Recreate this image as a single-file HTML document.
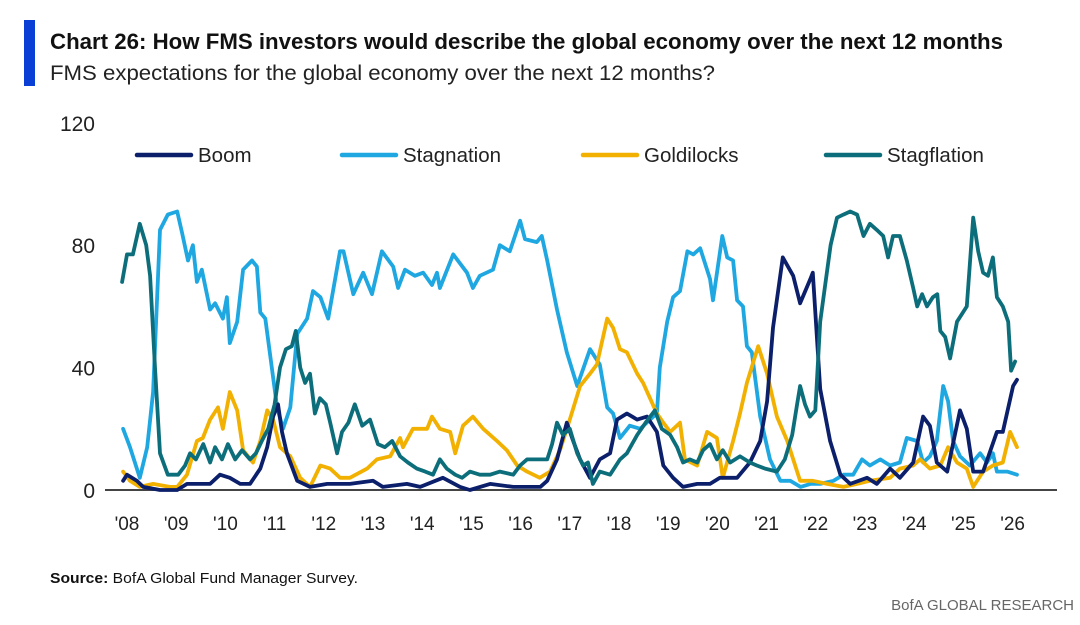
<!DOCTYPE html>
<html><head><meta charset="utf-8"><style>
body{margin:0;background:#fff;width:1080px;height:620px;overflow:hidden;font-family:"Liberation Sans",sans-serif;}
</style></head><body>
<svg id="chart" width="1080" height="620" xmlns="http://www.w3.org/2000/svg" font-family="Liberation Sans, sans-serif">
<rect x="24" y="20" width="11" height="66" fill="#0a3fd6"/>
<text x="50" y="49" font-size="22" font-weight="bold" fill="#111" textLength="953" lengthAdjust="spacingAndGlyphs">Chart 26: How FMS investors would describe the global economy over the next 12 months</text>
<text x="50" y="80" font-size="21" fill="#222" textLength="665" lengthAdjust="spacingAndGlyphs">FMS expectations for the global economy over the next 12 months?</text>
<g id="yticks"></g><g id="xticks"></g>
<line x1="105" y1="490" x2="1057" y2="490" stroke="#444" stroke-width="2"/>
<g id="series"></g>
<g id="legend"></g>
<text x="50" y="583" font-size="15" fill="#111" textLength="308" lengthAdjust="spacingAndGlyphs"><tspan font-weight="bold">Source:</tspan> BofA Global Fund Manager Survey.</text>
<text x="1074" y="610" font-size="15" fill="#666" text-anchor="end">BofA GLOBAL RESEARCH</text>
</svg>
<script>
const yTicks=[0,40,80,120];
const xTickLabels=["'08","'09","'10","'11","'12","'13","'14","'15","'16","'17","'18","'19","'20","'21","'22","'23","'24","'25","'26"];
const seriesNames=["Boom","Stagnation","Goldilocks","Stagflation"];
const boom=[[2007.92,3],[2008,5],[2008.2,3],[2008.33,1],[2008.67,0],[2009.02,0],[2009.22,2],[2009.42,2],[2009.69,2],[2009.89,5],[2010.09,4],[2010.3,2],[2010.5,2],[2010.71,7],[2010.85,14],[2010.97,24],[2011.07,28],[2011.15,19],[2011.25,12],[2011.46,3],[2011.72,1],[2012.07,2],[2012.4,2],[2012.53,2],[2013,3],[2013.2,1],[2013.69,2],[2013.96,1],[2014.42,4],[2014.77,1],[2014.97,0],[2015.38,2],[2015.85,1],[2016.4,1],[2016.54,3],[2016.74,10],[2016.94,22],[2017.07,16],[2017.21,10],[2017.41,4],[2017.61,10],[2017.82,12],[2017.96,23],[2018.16,25],[2018.37,23],[2018.57,24],[2018.77,19],[2018.9,8],[2019.1,4],[2019.3,1],[2019.59,2],[2019.85,2],[2020.05,4],[2020.4,4],[2020.66,9],[2020.87,16],[2021.01,29],[2021.13,53],[2021.33,76],[2021.54,70],[2021.68,61],[2021.89,69],[2021.94,71],[2022.09,33],[2022.29,16],[2022.5,5],[2022.7,2],[2023.04,4],[2023.24,2],[2023.51,7],[2023.71,4],[2023.98,9],[2024.18,24],[2024.32,21],[2024.46,9],[2024.67,6],[2024.93,26],[2025.07,20],[2025.2,6],[2025.4,6],[2025.68,19],[2025.8,19],[2026.01,34],[2026.09,36]];
const stagnation=[[2007.92,20],[2008.06,14],[2008.26,4],[2008.41,14],[2008.53,32],[2008.67,85],[2008.83,90],[2009.02,91],[2009.12,84],[2009.24,75],[2009.34,80],[2009.42,68],[2009.52,72],[2009.69,59],[2009.79,61],[2009.95,56],[2010.03,63],[2010.09,48],[2010.24,55],[2010.36,72],[2010.54,75],[2010.64,73],[2010.71,58],[2010.81,56],[2011.05,27],[2011.17,20],[2011.32,27],[2011.46,51],[2011.66,56],[2011.78,65],[2011.93,63],[2012.09,56],[2012.33,78],[2012.4,78],[2012.6,64],[2012.8,71],[2012.98,64],[2013.18,78],[2013.41,73],[2013.51,66],[2013.65,72],[2013.85,70],[2014.02,71],[2014.2,67],[2014.3,71],[2014.36,66],[2014.63,77],[2014.91,71],[2015.03,66],[2015.17,70],[2015.44,72],[2015.58,80],[2015.78,78],[2015.99,88],[2016.09,82],[2016.33,81],[2016.43,83],[2016.54,75],[2016.74,59],[2016.94,45],[2017.15,34],[2017.41,46],[2017.61,41],[2017.76,27],[2017.88,25],[2018.02,17],[2018.22,21],[2018.43,20],[2018.63,23],[2018.77,25],[2018.83,40],[2018.98,55],[2019.1,63],[2019.24,65],[2019.39,78],[2019.51,77],[2019.65,79],[2019.85,69],[2019.91,62],[2020.1,83],[2020.2,76],[2020.32,75],[2020.4,62],[2020.52,60],[2020.6,47],[2020.7,45],[2020.87,24],[2021.07,10],[2021.28,3],[2021.48,3],[2021.69,1],[2021.89,2],[2022.09,2],[2022.36,3],[2022.56,5],[2022.76,5],[2022.94,10],[2023.1,8],[2023.31,10],[2023.51,8],[2023.71,9],[2023.85,17],[2024.06,16],[2024.18,9],[2024.32,11],[2024.46,16],[2024.59,34],[2024.69,29],[2024.79,16],[2024.93,11],[2025.13,8],[2025.34,12],[2025.48,9],[2025.6,12],[2025.68,6],[2025.89,6],[2026.09,5]];
const goldilocks=[[2007.92,6],[2008.06,3],[2008.26,1],[2008.53,2],[2008.87,1],[2009.02,1],[2009.22,5],[2009.42,16],[2009.54,17],[2009.69,23],[2009.85,27],[2009.95,20],[2010.09,32],[2010.24,26],[2010.36,13],[2010.56,9],[2010.71,16],[2010.85,26],[2010.97,23],[2011.11,14],[2011.32,11],[2011.52,4],[2011.72,1],[2011.93,8],[2012.13,7],[2012.33,4],[2012.53,4],[2012.88,7],[2013.08,10],[2013.35,11],[2013.55,17],[2013.61,14],[2013.81,20],[2014.1,20],[2014.2,24],[2014.36,20],[2014.57,19],[2014.67,12],[2014.83,21],[2015.03,24],[2015.24,20],[2015.52,16],[2015.72,13],[2015.93,8],[2016.13,6],[2016.39,4],[2016.6,6],[2016.8,13],[2017,23],[2017.21,34],[2017.41,38],[2017.55,41],[2017.76,56],[2017.88,53],[2018.02,46],[2018.16,45],[2018.37,38],[2018.49,35],[2018.63,30],[2018.77,25],[2018.9,22],[2019.04,19],[2019.24,22],[2019.34,10],[2019.59,8],[2019.79,19],[2019.99,17],[2020.11,4],[2020.32,16],[2020.46,25],[2020.6,35],[2020.83,47],[2021.01,38],[2021.21,24],[2021.42,16],[2021.68,3],[2021.94,3],[2022.23,2],[2022.56,1],[2022.84,2],[2023.1,3],[2023.51,4],[2023.71,7],[2023.98,8],[2024.12,10],[2024.32,7],[2024.53,8],[2024.69,14],[2024.87,9],[2025.07,7],[2025.2,1],[2025.4,6],[2025.6,8],[2025.8,9],[2025.95,19],[2026.09,14]];
const stagflation=[[2007.9,68],[2008,77],[2008.12,77],[2008.26,87],[2008.39,80],[2008.47,70],[2008.57,40],[2008.67,12],[2008.83,5],[2009.04,5],[2009.18,8],[2009.28,12],[2009.4,10],[2009.55,15],[2009.69,9],[2009.79,14],[2009.93,10],[2010.05,15],[2010.2,10],[2010.34,13],[2010.5,10],[2010.62,12],[2010.74,16],[2010.87,20],[2011,28],[2011.11,40],[2011.23,46],[2011.35,47],[2011.43,52],[2011.52,40],[2011.62,35],[2011.72,38],[2011.82,25],[2011.92,30],[2012.04,28],[2012.13,22],[2012.27,12],[2012.37,19],[2012.5,22],[2012.63,28],[2012.78,21],[2012.94,23],[2013.1,15],[2013.24,14],[2013.39,16],[2013.55,11],[2013.71,9],[2013.89,7],[2014.06,6],[2014.22,5],[2014.36,10],[2014.5,7],[2014.67,5],[2014.81,4],[2014.97,6],[2015.17,5],[2015.38,5],[2015.58,6],[2015.85,5],[2015.99,8],[2016.13,10],[2016.33,10],[2016.54,10],[2016.64,15],[2016.74,22],[2016.86,18],[2017,20],[2017.15,12],[2017.27,8],[2017.37,9],[2017.47,2],[2017.61,6],[2017.82,5],[2018.02,10],[2018.16,12],[2018.37,18],[2018.54,22],[2018.73,26],[2018.87,20],[2019.04,18],[2019.18,14],[2019.3,9],[2019.44,10],[2019.59,9],[2019.71,13],[2019.85,15],[2019.99,10],[2020.11,13],[2020.26,9],[2020.46,11],[2020.66,9],[2020.8,8],[2020.97,7],[2021.21,6],[2021.37,10],[2021.52,18],[2021.62,28],[2021.68,34],[2021.78,28],[2021.88,24],[2021.99,26],[2022.09,55],[2022.2,68],[2022.3,80],[2022.43,89],[2022.56,90],[2022.7,91],[2022.84,90],[2022.97,83],[2023.1,87],[2023.24,85],[2023.37,83],[2023.47,76],[2023.57,83],[2023.71,83],[2023.85,75],[2023.98,66],[2024.06,60],[2024.16,64],[2024.26,60],[2024.38,63],[2024.47,64],[2024.53,52],[2024.63,50],[2024.73,43],[2024.87,55],[2024.99,58],[2025.07,60],[2025.2,89],[2025.3,78],[2025.4,71],[2025.5,70],[2025.6,76],[2025.68,63],[2025.8,60],[2025.91,55],[2025.97,39],[2026.05,42]];

const NS="http://www.w3.org/2000/svg";
function xS(yr){return 127+(yr-2008)*49.2;}
function yS(v){return 490-v*3.06;}
function mk(tag,attrs,parent){const e=document.createElementNS(NS,tag);for(const k in attrs)e.setAttribute(k,attrs[k]);parent.appendChild(e);return e;}

const yg=document.getElementById('yticks');
yTicks.forEach(t=>{const e=mk('text',{x:95,y:yS(t)+8,'font-size':21,fill:'#222','text-anchor':'end'},yg);


e.textContent=t;});
const xg=document.getElementById('xticks');
xTickLabels.forEach((l,i)=>{const e=mk('text',{x:xS(2008+i),y:530,'font-size':19,fill:'#222','text-anchor':'middle'},xg);


e.textContent=l;});

const colors=["#0b1f6b","#1ea7e1","#f2b000","#0d6e7b"];
const allData=[boom,stagnation,goldilocks,stagflation];
const sg=document.getElementById('series');
const order=[1,2,0,3];
order.forEach(i=>{const d=allData[i].map((p,j)=>(j?'L':'M')+xS(p[0]).toFixed(1)+','+yS(p[1]).toFixed(1)).join('');
const p=mk('path',{d:d,fill:'none',stroke:colors[i],'stroke-width':3.8,'stroke-linejoin':'round','stroke-linecap':'round'},sg);

});

const lg=document.getElementById('legend');
const lx=[137,342,583,826];
seriesNames.forEach((n,i)=>{const g=mk('g',{},lg);


mk('line',{x1:lx[i],y1:155,x2:lx[i]+54,y2:155,stroke:colors[i],'stroke-width':4.5,'stroke-linecap':'round'},g);
const t=mk('text',{x:lx[i]+61,y:162,'font-size':20.5,fill:'#222'},g);t.textContent=n;});
</script>
</body></html>
